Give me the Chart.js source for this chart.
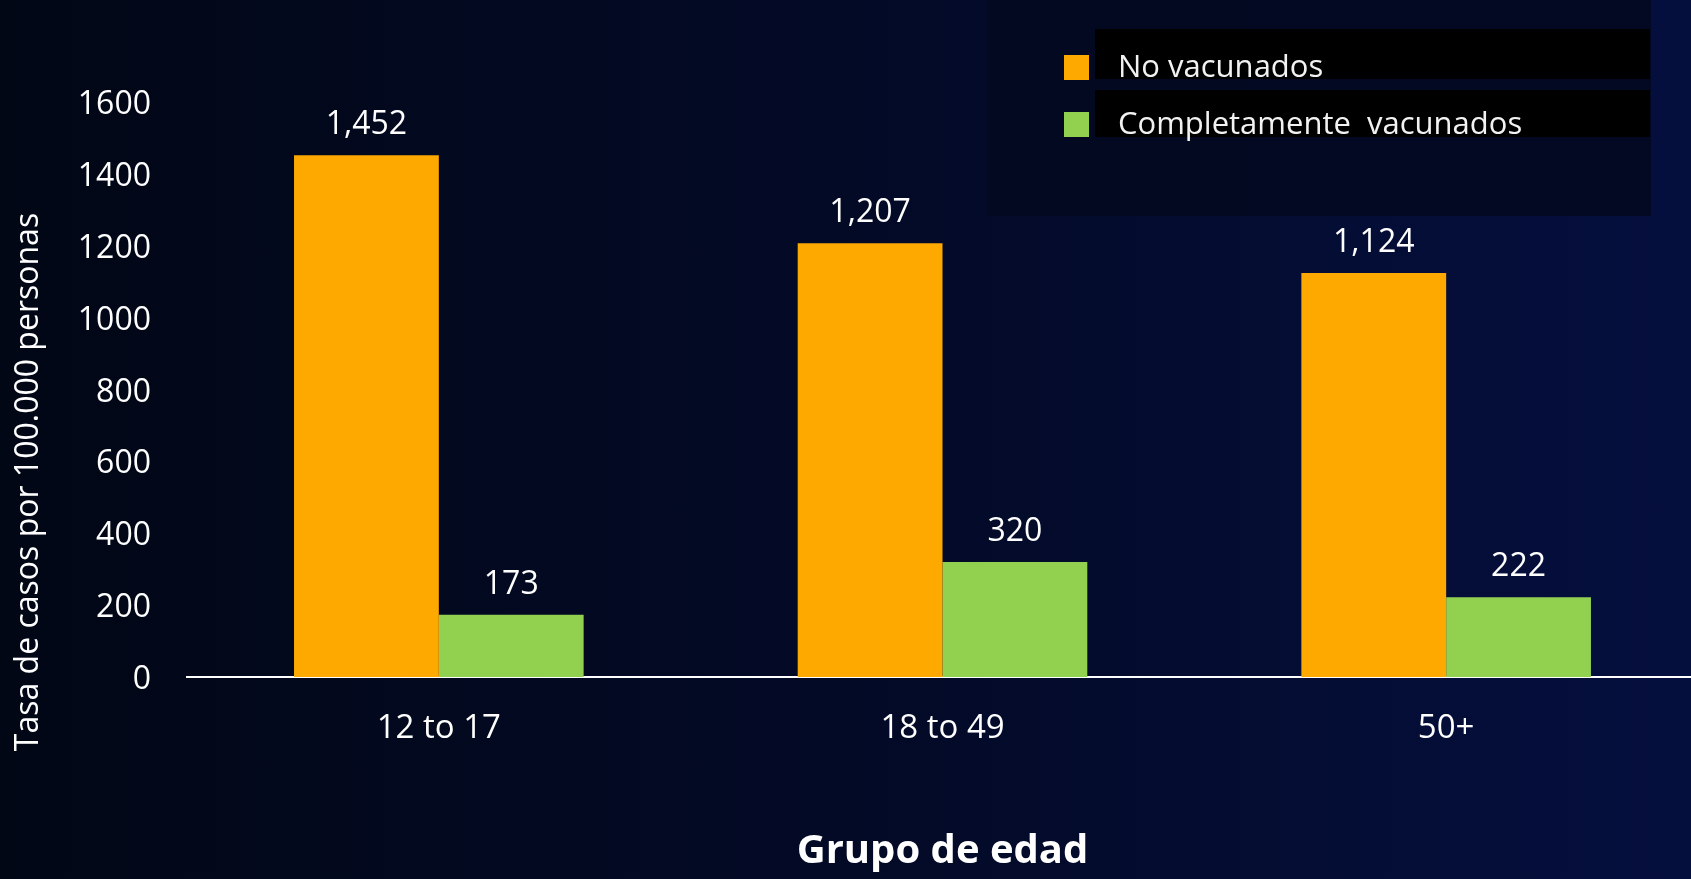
<!DOCTYPE html>
<html><head><meta charset="utf-8">
<script src="https://cdn.jsdelivr.net/npm/chart.js@4/dist/chart.umd.min.js"></script>
<style>
html,body{margin:0;padding:0;width:1691px;height:879px;overflow:hidden;
background:linear-gradient(90deg,#020716 0%,#030a26 50%,#050f3e 100%);}
#wrap{position:absolute;left:0;top:0;width:1698px;height:879px;}
</style></head><body>
<div id="wrap"><canvas id="c"></canvas></div>
<script>
const categories = ['12 to 17', '18 to 49', '50+'];
const seriesNames = ['No vacunados', 'Completamente  vacunados'];
const noVacunados = [1452, 1207, 1124];
const completamenteVacunados = [173, 320, 222];
const seriesColors = ['#FDA900', '#92D050'];
const yTicks = [0, 200, 400, 600, 800, 1000, 1200, 1400, 1600];
const yTitle = 'Tasa de casos por 100.000 personas';

const fmt = v => v.toLocaleString('en-US');

const valueLabels = {
  id: 'valueLabels',
  afterDatasetsDraw(chart) {
    const ctx = chart.ctx;
    ctx.save();
    ctx.fillStyle = '#ffffff';
    ctx.font = '32px "Open Sans"';
    ctx.textAlign = 'center';
    ctx.textBaseline = 'middle';
    chart.data.datasets.forEach((ds, i) => {
      chart.getDatasetMeta(i).data.forEach((bar, j) => {
        ctx.fillText(fmt(ds.data[j]), bar.x, bar.y - 30);
      });
    });
    ctx.restore();
  }
};

const yTitlePlugin = {
  id: 'yTitlePlugin',
  afterDraw(chart) {
    const ctx = chart.ctx;
    ctx.save();
    ctx.translate(29, 482);
    ctx.rotate(-Math.PI / 2);
    ctx.fillStyle = '#ffffff';
    ctx.font = '32px "Open Sans"';
    ctx.textAlign = 'center';
    ctx.textBaseline = 'middle';
    ctx.fillText(yTitle, 0, 0);
    ctx.restore();
  }
};

const boxLegend = {
  id: 'boxLegend',
  afterDraw(chart) {
    const ctx = chart.ctx;
    ctx.save();
    ctx.fillStyle = 'rgba(3,9,32,0.9)';
    ctx.fillRect(987, 0, 664, 216);
    const rows = [68, 125];
    const strips = [[29, 50], [90, 47]];
    chart.data.datasets.forEach((ds, i) => {
      const cy = rows[i];
      ctx.fillStyle = '#000000';
      ctx.fillRect(1095, strips[i][0], 555, strips[i][1]);
      ctx.fillStyle = ds.backgroundColor;
      ctx.fillRect(1064, cy - 13, 25, 25);
      ctx.fillStyle = '#f2f2f2';
      ctx.font = '31px "Open Sans"';
      ctx.textBaseline = 'middle';
      ctx.textAlign = 'left';
      ctx.fillText(ds.label, 1118, cy);
    });
    ctx.restore();
  }
};

new Chart(document.getElementById('c'), {
  type: 'bar',
  data: {
    labels: categories,
    datasets: [
      { label: seriesNames[0], data: noVacunados, backgroundColor: seriesColors[0],
        categoryPercentage: 0.575, barPercentage: 1 },
      { label: seriesNames[1], data: completamenteVacunados, backgroundColor: seriesColors[1],
        categoryPercentage: 0.575, barPercentage: 1 }
    ]
  },
  options: {
    responsive: true,
    maintainAspectRatio: false,
    animation: false,
    layout: { padding: { top: 102, right: 0, bottom: 0, left: 0 } },
    plugins: { legend: { display: false }, tooltip: { enabled: false } },
    scales: {
      x: {
        grid: { display: false, drawTicks: false },
        border: { display: true, color: '#ffffff', width: 2 },
        ticks: { color: '#ffffff', font: { size: 33, family: 'Open Sans' }, padding: 32 },
        title: { display: true, text: 'Grupo de edad', color: '#ffffff',
                 font: { size: 40, weight: 'bold', family: 'Open Sans', lineHeight: 1 },
                 padding: { top: 0, bottom: 7 } },
        afterFit(s) { s.height = 202; }
      },
      y: {
        min: 0, max: 1600,
        grid: { display: false, drawTicks: false },
        border: { display: false },
        afterBuildTicks(s) { s.ticks = yTicks.map(v => ({ value: v })); },
        ticks: { color: '#ffffff', font: { size: 32, family: 'Open Sans' }, padding: 36,
                 labelOffset: 3, callback: v => String(v) },
        title: { display: false },
        afterFit(s) { s.width = 187; }
      }
    }
  },
  plugins: [valueLabels, yTitlePlugin, boxLegend]
});
</script>
</body></html>
